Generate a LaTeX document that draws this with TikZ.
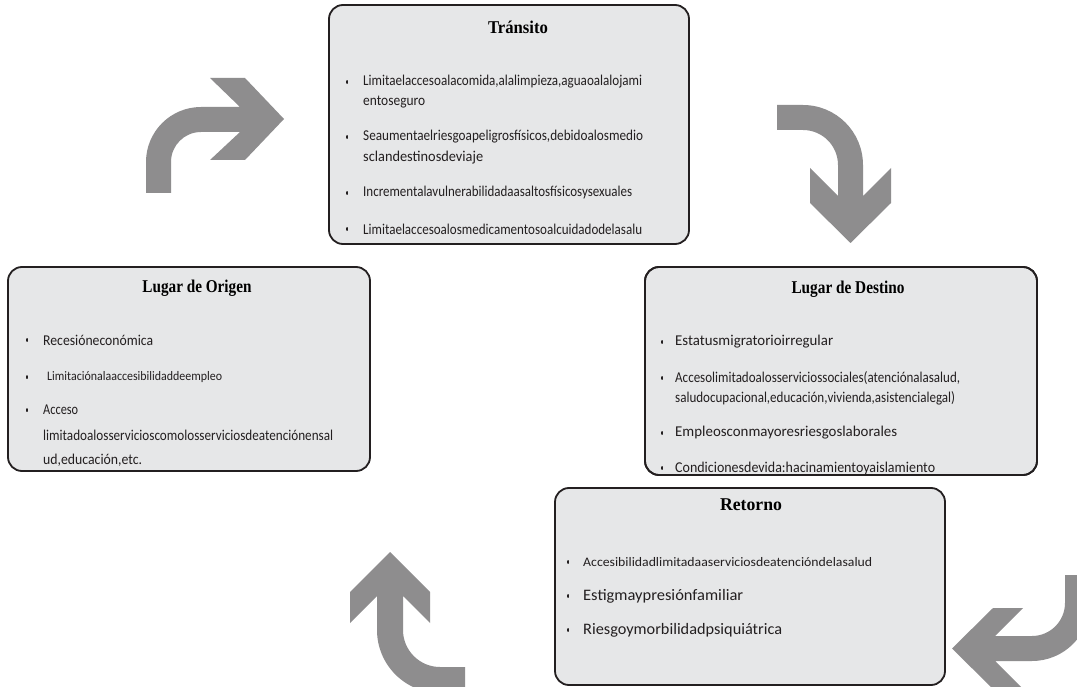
\documentclass[tikz,border=0pt]{standalone}
\usepackage{fontspec}
\usepackage{graphicx}
\setmainfont{Carlito}
\newfontfamily\titlefont{Liberation Serif}
\definecolor{boxfill}{RGB}{230,231,232}
\definecolor{boxline}{RGB}{35,31,32}
\definecolor{arrowgray}{RGB}{142,141,142}
\newcommand{\fw}[2]{\resizebox{#1pt}{\height}{#2}}
\begin{document}
\begin{tikzpicture}[x=1pt,y=-1pt,
  box/.style={draw=boxline, line width=1.8pt, fill=boxfill, rounded corners=14pt, inner sep=0pt},
  boxedge/.style={draw=boxline, line width=1.8pt, fill=none, rounded corners=14pt, inner sep=0pt},
  ttl/.style={font=\titlefont\bfseries\fontsize{18}{20}\selectfont, text=black, inner sep=0pt},
  itm/.style={anchor=west, inner sep=0pt, text=boxline, font=\fontsize{15}{17}\selectfont},
  itmD/.style={anchor=west, inner sep=0pt, text=boxline, font=\fontsize{16}{18}\selectfont},
  itmS/.style={anchor=west, inner sep=0pt, text=boxline, font=\fontsize{13}{15}\selectfont},
  bul/.style={fill=boxline, draw=none, minimum width=1.6pt, minimum height=3.6pt, inner sep=0pt, rounded corners=0.6pt},
  arr/.style={fill=arrowgray, draw=none}]
\clip (0,0) rectangle (1077,687);
\fill[white] (0,0) rectangle (1077,687);

% ---- boxes ----
\node[box, minimum width=360pt, minimum height=239pt] (tr) at (509,124.5) {};
\node[box, minimum width=362pt, minimum height=204pt] (or) at (189,369) {};
\node[box, minimum width=392pt, minimum height=208pt] (de) at (841,371) {};
\node[box, minimum width=390pt, minimum height=197pt] (re) at (750,586.5) {};

% ---- Transito ----
\node[ttl] (trT) at (518,27) {\fw{60}{Tránsito}};
\node[bul] (trb1) at (347,82) {};
\node[itm] (tr1) at (363,82) {\fw{279}{Limitaelaccesoalacomida,alalimpieza,aguaoalalojami}};
\node[itm] (tr1b) at (363,102) {\fw{62}{entoseguro}};
\node[bul] (trb2) at (347,137) {};
\node[itm] (tr2) at (363,137) {\fw{280}{Seaumentaelriesgoapeligrosfísicos,debidoalosmedio}};
\node[itm] (tr2b) at (363,158) {\fw{120}{sclandestinosdeviaje}};
\node[bul] (trb3) at (347,193) {};
\node[itm] (tr3) at (363,193) {\fw{269}{Incrementalavulnerabilidadaasaltosfísicosysexuales}};
\node[bul] (trb4) at (347,229) {};
\node[itm] (tr4) at (363,229) {\fw{279}{Limitaelaccesoalosmedicamentosoalcuidadodelasalu}};

% ---- Origen ----
\node[ttl] (orT) at (197,288) {\fw{109}{Lugar de Origen}};
\node[bul] (orb1) at (27,340) {};
\node[itm] (or1) at (43,340) {\fw{110}{Recesióneconómica}};
\node[bul] (orb2) at (27,377) {};
\node[itmS] (or2) at (47,377) {\fw{175}{Limitaciónalaaccesibilidaddeempleo}};
\node[bul] (orb3) at (27,410) {};
\node[itm] (or3) at (43,410) {\fw{35}{Acceso}};
\node[itm] (or3b) at (43,435) {\fw{290}{limitadoalosservicioscomolosserviciosdeatenciónensal}};
\node[itm] (or3c) at (43,460) {\fw{99}{ud,educación,etc.}};

% ---- Destino ----
\node[ttl] (deT) at (848,289) {\fw{113}{Lugar de Destino}};
\node[bul] (deb1) at (662,342) {};
\node[itm] (de1) at (675,342) {\fw{158}{Estatusmigratorioirregular}};
\node[bul] (deb2) at (662,378) {};
\node[itm] (de2) at (675,378) {\fw{285}{Accesolimitadoalosserviciossociales(atenciónalasalud,}};
\node[itm] (de2b) at (675,398) {\fw{280}{saludocupacional,educación,vivienda,asistencialegal)}};
\node[bul] (deb3) at (662,433) {};
\node[itm] (de3) at (675,433) {\fw{222}{Empleosconmayoresriesgoslaborales}};
\begin{scope}
\clip (645,267) rectangle (1037,473);
\node[bul] (deb4) at (662,468) {};
\node[itm] (de4) at (675,468) {\fw{260}{Condicionesdevida:hacinamientoyaislamiento}};
\end{scope}
\node[boxedge, minimum width=392pt, minimum height=208pt] (deE) at (841,371) {};

% ---- Retorno ----
\node[ttl] (reT) at (751,505) {\fw{62}{Retorno}};
\node[bul] (reb1) at (568,562) {};
\node[itmS] (re1) at (583,562) {\fw{289}{Accesibilidadlimitadaaserviciosdeatencióndelasalud}};
\node[bul] (reb2) at (568,596) {};
\node[itmD] (re2) at (583,596) {\fw{160}{Estigmaypresiónfamiliar}};
\node[bul] (reb3) at (568,630) {};
\node[itmD] (re3) at (583,630) {\fw{199}{Riesgoymorbilidadpsiquiátrica}};

% ---- arrows ----
% top-left, pointing right
\fill[arr] (146,193) -- (146,162) .. controls (146,131.6) and (170.6,107) .. (201,107)
  -- (240,107) -- (210,78) -- (245,78) -- (284,119) -- (245,160) -- (210,160) -- (240,132)
  -- (201,132) .. controls (184.4,132) and (171,145.4) .. (171,162) -- (171,193) -- cycle;
% top-right, pointing down
\fill[arr] (777,105) -- (803,105) .. controls (836.1,105) and (863,131.9) .. (863,165)
  -- (863,196) -- (891,168) -- (891,203) -- (850.5,243) -- (810,203) -- (810,168) -- (838,196)
  -- (838,165) .. controls (838,145.7) and (822.3,130) .. (803,130) -- (777,130) -- cycle;
% bottom-left, pointing up
\fill[arr] (465,667) -- (440,667) .. controls (419.6,667) and (403,650.4) .. (403,630)
  -- (403,596) -- (430,623) -- (430,592) -- (390,552) -- (350,592) -- (350,623) -- (377,596)
  -- (377,630) .. controls (377,664.8) and (405.2,693) .. (440,693) -- (465,693) -- cycle;
% bottom-right, pointing left
\fill[arr] (1065,575) -- (1065,603) .. controls (1065,621.2) and (1050.2,636) .. (1032,636)
  -- (995,636) -- (1023,608) -- (993,608) -- (952,648.5) -- (993,689) -- (1023,689) -- (995,661)
  -- (1032,661) .. controls (1064,661) and (1090,635) .. (1090,603) -- (1090,575) -- cycle;
\end{tikzpicture}
\end{document}
